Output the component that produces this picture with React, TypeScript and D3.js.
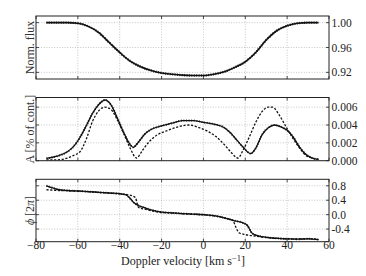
import React from "react";
import * as d3 from "d3";

// ---------- data ----------
const xTicks = [-80, -60, -40, -20, 0, 20, 40, 60];
const xTickLabels = ["−80", "−60", "−40", "−20", "0", "20", "40", "60"];

const fluxV = [-75, -70, -65, -60, -55, -50, -45, -40, -35, -30, -25, -20, -15, -10, -5, 0, 5, 10, 15, 20, 25, 30, 35, 40, 45, 50, 55];
const fluxY = [1.0, 1.0, 1.0, 0.999, 0.994, 0.984, 0.968, 0.952, 0.938, 0.929, 0.923, 0.919, 0.917, 0.9155, 0.915, 0.915, 0.917, 0.921, 0.928, 0.937, 0.952, 0.972, 0.987, 0.995, 0.999, 1.0, 1.0];
const fluxTicks = [1.0, 0.96, 0.92];
const fluxTickLabels = ["1.00", "0.96", "0.92"];

const ampAV = [-75, -70, -65, -62, -59, -56, -53, -50, -47, -44, -41, -38, -35, -33.5, -31, -28, -25, -20, -15, -10, -5, 0, 5, 10, 13, 16, 19, 22.5, 25, 28, 31, 34, 37, 40, 43, 46, 49, 52, 55];
const ampAY = [0.00025, 0.0005, 0.001, 0.0016, 0.0026, 0.0039, 0.0053, 0.0063, 0.0068, 0.0062, 0.0047, 0.0031, 0.0018, 0.0015, 0.0021, 0.003, 0.0035, 0.0039, 0.0042, 0.0045, 0.0045, 0.0043, 0.0041, 0.0037, 0.0031, 0.0023, 0.0015, 0.0008, 0.0014, 0.0029, 0.0037, 0.004, 0.0038, 0.0034, 0.0026, 0.0015, 0.0007, 0.0003, 0.00015];
const ampBV = [-75, -70, -65, -62, -59, -56, -53, -50, -47, -44, -41, -38, -35, -32, -29, -26, -22, -17, -12, -7, -2, 2, 6, 10, 13, 16.5, 19, 22, 25, 28, 31, 33, 36, 39, 42, 46, 49, 52, 55];
const ampBY = [0.0001, 0.0001, 0.0003, 0.0006, 0.001, 0.0024, 0.0044, 0.0056, 0.006, 0.0057, 0.0045, 0.003, 0.0014, 0.0003, 0.0012, 0.0021, 0.0029, 0.0034, 0.0038, 0.004, 0.0037, 0.0033, 0.0027, 0.0018, 0.001, 0.0003, 0.0012, 0.0027, 0.0043, 0.0055, 0.006, 0.006, 0.0052, 0.004, 0.0028, 0.0014, 0.0006, 0.0003, 0.00015];
const ampTicks = [0.006, 0.004, 0.002, 0.0];
const ampTickLabels = ["0.006", "0.004", "0.002", "0.000"];

const phAV = [-75, -72, -69, -65, -60, -55, -50, -45, -40, -37, -35, -33, -31, -28, -25, -20, -15, -10, -5, 0, 5, 10, 15, 19, 21, 23, 25, 28, 32, 36, 40, 45, 50, 55];
const phAY = [0.8, 0.74, 0.69, 0.67, 0.655, 0.64, 0.62, 0.6, 0.58, 0.55, 0.45, 0.32, 0.25, 0.19, 0.13, 0.07, 0.05, 0.03, 0.015, 0.0, -0.03, -0.09, -0.17, -0.23, -0.3, -0.5, -0.57, -0.61, -0.64, -0.66, -0.67, -0.68, -0.67, -0.69];
const phBV = [-75, -72, -69, -65, -60, -55, -50, -45, -40, -36, -34, -32.5, -31, -28, -25, -20, -15, -10, -5, 0, 5, 10, 14, 15.5, 17, 19, 23, 28, 32, 36, 40, 45, 50, 55];
const phBY = [0.69, 0.68, 0.67, 0.665, 0.65, 0.635, 0.615, 0.595, 0.575, 0.55, 0.52, 0.47, 0.2, 0.15, 0.11, 0.06, 0.045, 0.025, 0.01, -0.005, -0.035, -0.09, -0.16, -0.35, -0.5, -0.54, -0.58, -0.62, -0.645, -0.66, -0.67, -0.675, -0.665, -0.69];
const phTicks = [0.8, 0.4, 0.0, -0.4];
const phTickLabels = ["0.8", "0.4", "0.0", "-0.4"];

// ---------- layout ----------
const W = 366, H = 276;
const X0 = 36, X1 = 329;
const FONT = "'Liberation Serif', serif";
const TS: React.CSSProperties = { fontFamily: FONT };

const x = d3.scaleLinear().domain([-80, 60]).range([X0, X1]);

type Panel = {
  top: number; bottom: number; domain: [number, number];
  ticks: number[]; labels: string[]; ylabel: React.ReactNode;
};

const panels: Panel[] = [
  { top: 16, bottom: 79, domain: [0.9093, 1.0107], ticks: fluxTicks, labels: fluxTickLabels, ylabel: "Norm. flux" },
  { top: 97.5, bottom: 160.7, domain: [0, 0.00708], ticks: ampTicks, labels: ampTickLabels, ylabel: "A [% of cont.]" },
  { top: 179.3, bottom: 241.7, domain: [-0.75, 0.98], ticks: phTicks, labels: phTickLabels, ylabel: (<><tspan fontStyle="italic">ϕ</tspan> [2<tspan fontStyle="italic">π</tspan>]</>) },
];

function makeLine(y: d3.ScaleLinear<number, number>, vs: number[], ys: number[]) {
  const pts = vs.map((v, i) => [v, ys[i]] as [number, number]);
  return d3.line<[number, number]>().x(d => x(d[0])).y(d => y(d[1])).curve(d3.curveMonotoneX)(pts) || "";
}

export default function App() {
  const ys = panels.map(p => d3.scaleLinear().domain(p.domain).range([p.bottom, p.top]));
  const series: { d: string; kind: string }[][] = [
    [{ d: makeLine(ys[0], fluxV, fluxY), kind: "thick" }],
    [{ d: makeLine(ys[1], ampAV, ampAY), kind: "solid" }, { d: makeLine(ys[1], ampBV, ampBY), kind: "dash" }],
    [{ d: makeLine(ys[2], phAV, phAY), kind: "solid" }, { d: makeLine(ys[2], phBV, phBY), kind: "dash" }],
  ];
  return (
    <svg width={W} height={H} style={{ position: "absolute", left: 0, top: 0, background: "#fff", fontFamily: FONT }}>
      {panels.map((p, pi) => {
        const y = ys[pi];
        return (
          <g key={pi}>
            <defs>
              <clipPath id={`clip${pi}`}>
                <rect x={X0} y={p.top} width={X1 - X0} height={p.bottom - p.top} />
              </clipPath>
            </defs>
            {xTicks.slice(1, -1).map(t => (
              <line key={"gx" + t} x1={x(t)} x2={x(t)} y1={p.top} y2={p.bottom} stroke="#b8b8b8" strokeWidth={0.8} strokeDasharray="1,1.6" />
            ))}
            {p.ticks.map(t => (
              <line key={"gy" + t} x1={X0} x2={X1} y1={y(t)} y2={y(t)} stroke="#b8b8b8" strokeWidth={0.8} strokeDasharray="1,1.6" />
            ))}
            <g clipPath={`url(#clip${pi})`}>
              {series[pi].map((s, si) => (
                s.kind === "thick" ? (
                  <g key={si}>
                    <path d={s.d} fill="none" stroke="#111" strokeWidth={1.6} />
                    <path d={s.d} fill="none" stroke="#111" strokeWidth={2.4} strokeDasharray="0.8,1.6" />
                  </g>
                ) : s.kind === "solid" ? (
                  <g key={si}>
                    <path d={s.d} fill="none" stroke="#111" strokeWidth={1.3} />
                    <path d={s.d} fill="none" stroke="#111" strokeWidth={2} strokeDasharray="0.8,1.8" />
                  </g>
                ) : (
                  <path key={si} d={s.d} fill="none" stroke="#111" strokeWidth={1.3} strokeDasharray="2.2,1.6" />
                )
              ))}
            </g>
            <rect x={X0} y={p.top} width={X1 - X0} height={p.bottom - p.top} fill="none" stroke="#222" strokeWidth={1} />
            {xTicks.map(t => (
              <g key={"tx" + t}>
                <line x1={x(t)} x2={x(t)} y1={p.top} y2={p.top + 3} stroke="#222" strokeWidth={0.8} />
                <line x1={x(t)} x2={x(t)} y1={p.bottom} y2={p.bottom - 3} stroke="#222" strokeWidth={0.8} />
              </g>
            ))}
            {p.ticks.map(t => (
              <g key={"ty" + t}>
                <line x1={X0} x2={X0 + 3} y1={y(t)} y2={y(t)} stroke="#222" strokeWidth={0.8} />
                <line x1={X1} x2={X1 - 3} y1={y(t)} y2={y(t)} stroke="#222" strokeWidth={0.8} />
              </g>
            ))}
            {p.ticks.map((t, i) => (
              <text key={"yl" + t} x={X1 + 2.5} y={y(t)} dy="0.35em" fontSize={11.5} fill="#222" style={TS}>{p.labels[i]}</text>
            ))}
            <text transform={`translate(${29.5},${(p.top + p.bottom) / 2}) rotate(-90)`} textAnchor="middle" dy="0.35em" fontSize={12} fill="#333" style={TS}>{p.ylabel}</text>
          </g>
        );
      })}
      {xTicks.map((t, i) => (
        <text key={"xl" + t} x={x(t)} y={248.5} textAnchor="middle" fontSize={11.5} fill="#222" style={TS}>{xTickLabels[i]}</text>
      ))}
      <text x={183} y={265} textAnchor="middle" fontSize={12} fill="#222" style={TS}>
        Doppler velocity [km s<tspan dy={-4} fontSize={8.5}>−1</tspan><tspan dy={4}>]</tspan>
      </text>
    </svg>
  );
}
